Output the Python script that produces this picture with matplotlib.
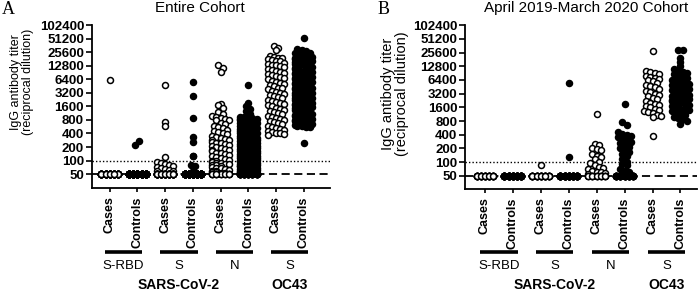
import numpy as np
import matplotlib
matplotlib.use('Agg')
import matplotlib.pyplot as plt
import matplotlib.transforms as mtransforms

plt.rcParams['font.family'] = ['Liberation Sans', 'DejaVu Sans']

# ---------------- data (IgG titers, reciprocal dilution) ----------------
categories = ['Cases', 'Controls'] * 4
antigens = ['S-RBD', 'S', 'N', 'S']
viruses = ['SARS-CoV-2', 'OC43']
yticks = [50, 100, 200, 400, 800, 1600, 3200, 6400, 12800, 25600, 51200, 102400]

# Panel A - entire cohort
a_rbd_cases = [6100] + [50] * 89
a_rbd_controls = [220, 270] + [50] * 150
a_s_cases = [4800, 725, 580, 121, 95, 90, 86, 78, 75, 72, 70, 64, 62, 60, 58] + [50] * 75
a_s_controls = [5500, 2700, 900, 330, 260, 126, 124, 80, 76, 60] + [50] * 140
a_n_cases = [13500, 11500, 9500, 1800, 1700, 1500, 1200, 1100, 1000, 950, 900, 850, 800,
             780, 700, 650, 600, 560, 520, 480, 450, 430, 400, 380, 360, 340, 320, 300,
             290, 280, 260, 250, 240, 230, 220, 210, 200, 190, 180, 175, 170, 160, 150,
             145, 140, 130, 125, 120, 115, 110, 105, 100, 98, 95, 90, 88, 85, 82, 80, 78,
             75, 72, 70, 68, 65, 62, 60, 58, 56, 55, 54, 52] + [50] * 18
a_n_controls = [4700, 1900, 1600, 1400, 1250, 1100, 950, 920, 900, 880, 860, 840, 820, 800,
                780, 760, 740, 720, 700, 680, 660, 640, 620, 600, 580, 560, 540, 520, 500,
                480, 470, 460, 450, 440, 420, 410, 400, 390, 380, 370, 360, 350, 340, 330,
                320, 310, 300, 290, 285, 280, 270, 260, 255, 250, 240, 235, 230, 225, 220,
                215, 210, 205, 200, 195, 190, 185, 180, 175, 170, 165, 160, 155, 150, 148,
                145, 140, 138, 135, 130, 128, 125, 122, 120, 118, 115, 112, 110, 108, 105,
                102, 100, 98, 96, 94, 92, 90, 88, 86, 84, 82, 80, 78, 76, 75, 74, 72, 70,
                69, 68, 66, 65, 64, 62, 61, 60, 59, 58, 57, 56, 55, 54, 53, 52, 51] + [50] * 50
a_oc43_cases = [35000, 32000, 29000, 21000, 20000, 19500, 19000, 18000, 17000, 16500, 16000,
                15000, 14000, 13500, 13000, 12500, 12000, 11000, 10500, 10000, 9500, 9000,
                8500, 8000, 7600, 7200, 6800, 6400, 6000, 5700, 5400, 5100, 4800, 4500, 4200,
                4000, 3800, 3600, 3400, 3200, 3000, 2850, 2700, 2550, 2400, 2250, 2100, 2000,
                1900, 1800, 1700, 1600, 1500, 1420, 1350, 1280, 1200, 1130, 1060, 1000, 950,
                900, 850, 800, 760, 720, 680, 640, 600, 570, 540, 510, 480, 460, 440, 420,
                400, 380, 370]
a_oc43_controls = [54000, 30000, 28000, 27000, 25000, 24000, 23000, 22000, 21000, 20000,
                   19000, 18500, 18000, 17000, 16500, 16000, 15500, 15000, 14500, 14000,
                   13500, 13000, 12500, 12000, 11500, 11000, 10500, 10000, 9600, 9200, 8800,
                   8400, 8000, 7700, 7400, 7100, 6800, 6500, 6200, 6000, 5800, 5600, 5400,
                   5200, 5000, 4800, 4600, 4400, 4200, 4000, 3850, 3700, 3550, 3400, 3250,
                   3100, 3000, 2900, 2800, 2700, 2600, 2500, 2400, 2300, 2200, 2100, 2000,
                   1950, 1900, 1850, 1800, 1750, 1700, 1650, 1600, 1550, 1500, 1450, 1400,
                   1350, 1300, 1250, 1200, 1150, 1100, 1050, 1000, 960, 920, 880, 840, 800,
                   770, 740, 710, 680, 650, 620, 600, 580, 560, 550, 250]

# Panel B - April 2019-March 2020 cohort
b_rbd_cases = [50] * 40
b_rbd_controls = [50] * 70
b_s_cases = [86] + [50] * 39
b_s_controls = [5400, 128] + [50] * 68
b_n_cases = [1130, 250, 240, 200, 195, 190, 150, 140, 130, 120, 100, 95, 85, 80, 75, 70,
             65, 62, 60, 58, 55] + [50] * 19
b_n_controls = [1850, 760, 650, 450, 420, 400, 380, 350, 320, 300, 280, 260, 240, 220, 200,
                180, 170, 150, 140, 120, 100, 90, 85, 72, 65, 60] + [50] * 44
b_oc43_cases = [28000, 10000, 9500, 9000, 8800, 8000, 7500, 7000, 6800, 6400, 6000, 5500,
                5000, 4700, 4400, 4000, 3700, 3400, 3200, 3000, 2800, 2600, 2400, 2200, 2000,
                1900, 1800, 1700, 1600, 1500, 1400, 1300, 1250, 1200, 1100, 1050, 1000, 380]
b_oc43_controls = [29000, 29000, 19000, 16000, 13000, 11000, 10000, 9500, 9000, 8500, 8000,
                   7500, 7000, 6500, 6200, 6000, 5600, 5200, 5000, 4800, 4500, 4200, 4000,
                   3800, 3600, 3400, 3200, 3000, 2900, 2800, 2600, 2500, 2400, 2300, 2200,
                   2100, 2000, 1900, 1800, 1700, 1600, 1500, 1450, 1400, 1350, 1300, 1200,
                   1100, 1000, 950, 900, 800, 700]

panel_a = [a_rbd_cases, a_rbd_controls, a_s_cases, a_s_controls,
           a_n_cases, a_n_controls, a_oc43_cases, a_oc43_controls]
panel_b = [b_rbd_cases, b_rbd_controls, b_s_cases, b_s_controls,
           b_n_cases, b_n_controls, b_oc43_cases, b_oc43_controls]


def swarm_x(center, values, bin_w=0.38, step=0.15, max_slots=5):
    """Spread points of one column horizontally, row by row (Prism-like)"""
    logv = np.log2(np.asarray(values, dtype=float))
    rows = np.floor((logv - np.log2(50)) / bin_w + 0.5)
    xs = np.zeros(len(logv))
    for r in np.unique(rows):
        idx = np.where(rows == r)[0]
        k = min(len(idx), max_slots)
        offs = (np.arange(k) - (k - 1) / 2) * step
        for j, i in enumerate(idx):
            xs[i] = center + offs[j % k]
    return xs


def draw_panel(fig, rect, data, ylo, title, title_x, letter, letter_x, ylab_x, ylab_y, ylab_size):
    ax = fig.add_axes(rect)
    ax.set_yscale('log', base=2)
    ax.set_ylim(ylo, 102400)
    ax.axhline(100, color='black', lw=1.0, ls=(0, (1, 1.5)), zorder=1)
    ax.axhline(50, color='black', lw=1.3, ls=(0, (4.5, 2.5)), zorder=1)

    for i, vals in enumerate(data):
        xs = swarm_x(i, vals)
        face = 'white' if i % 2 == 0 else 'black'
        ax.plot(xs, vals, 'o', ms=4.3, mfc=face, mec='black', mew=1.1, zorder=3, clip_on=False)

    ax.set_yticks(yticks)
    ax.set_yticklabels([str(t) for t in yticks], fontsize=9.5, fontweight='bold')
    ax.yaxis.set_minor_locator(matplotlib.ticker.NullLocator())
    ax.set_xticks(range(len(categories)))
    ax.set_xticklabels(categories, rotation=90, fontsize=9, fontweight='bold')
    ax.tick_params(axis='y', length=4, width=1.2, pad=1.5)
    ax.tick_params(axis='x', length=3, width=1.2, pad=3)
    for s in ['top', 'right']:
        ax.spines[s].set_visible(False)
    for s in ['left', 'bottom']:
        ax.spines[s].set_linewidth(1.3)

    # group bars and labels under the axis
    tr = mtransforms.blended_transform_factory(ax.transData, fig.transFigure)
    for g, name in enumerate(antigens):
        x0 = 2 * g
        ax.plot([x0 - 0.17, x0 + 1.17], [0.137, 0.137], color='black', lw=2.6,
                transform=tr, clip_on=False, solid_capstyle='butt')
        ax.text(x0 + 0.5, 0.088, name, transform=tr, ha='center', va='center', fontsize=9.5)
    ax.text(2.5, 0.024, viruses[0], transform=tr, ha='center', va='center',
            fontsize=10, fontweight='bold')
    ax.text(6.5, 0.024, viruses[1], transform=tr, ha='center', va='center',
            fontsize=10, fontweight='bold')

    fig.text(title_x, 0.972, title, ha='center', va='center', fontsize=11)
    fig.text(letter_x, 0.968, letter, ha='left', va='center', fontsize=13,
             family=['Liberation Serif', 'DejaVu Serif'])
    fig.text(ylab_x, ylab_y, 'IgG antibody titer\n(reciprocal dilution)', rotation=90,
             ha='center', va='center', multialignment='center', fontsize=ylab_size,
             linespacing=1.0)
    return ax


fig = plt.figure(figsize=(7, 2.92), dpi=100)

axA = draw_panel(fig, [0.131, 0.356, 0.340, 0.558], panel_a, 24.5, 'Entire Cohort', 0.286,
                 'A', 0.003, 0.031, 0.72, 9)
axA.set_xlim(-0.65, 7.94)

axB = draw_panel(fig, [0.664, 0.353, 0.332, 0.561], panel_b, 25.9,
                 'April 2019-March 2020 Cohort', 0.837, 'B', 0.539, 0.565, 0.678, 10.5)
axB.set_xlim(-0.72, 7.6)

fig.savefig('out.png', dpi=100)
